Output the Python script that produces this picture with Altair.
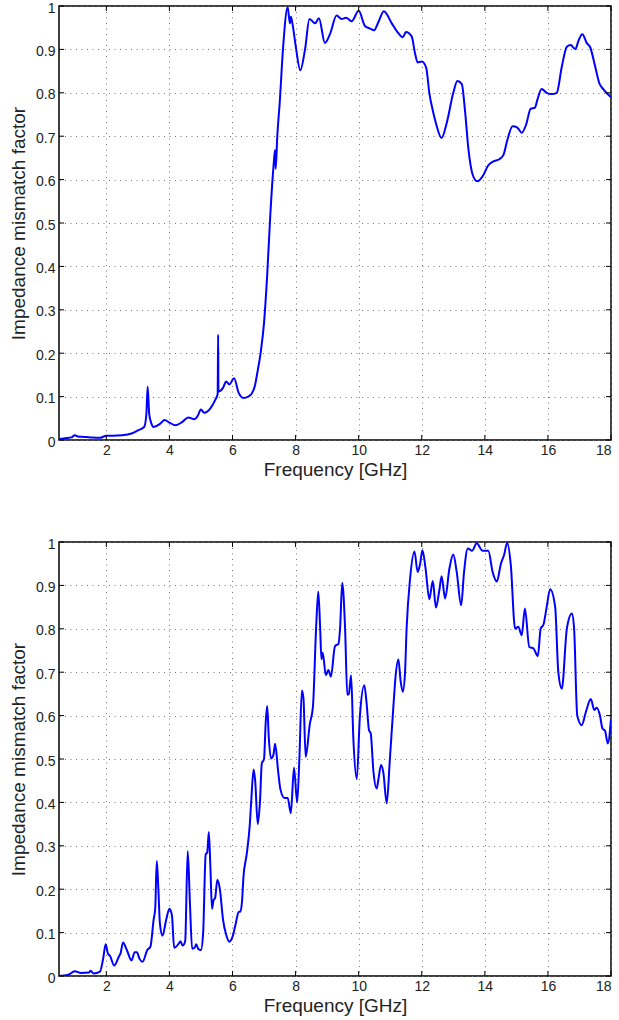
import altair as alt
import pandas as pd

# ---- data: top panel ----
freq_top = [0.5, 0.7, 0.9, 1.0, 1.1, 1.3, 1.5, 1.8, 2.0, 2.2, 2.5, 2.8, 3.0, 3.2, 3.27, 3.31, 3.36, 3.42, 3.5,
            3.7, 3.85, 4.0, 4.2, 4.4, 4.6, 4.8, 4.9, 5.0, 5.1, 5.3, 5.45, 5.53, 5.545, 5.555, 5.7, 5.8, 5.9,
            6.05, 6.2, 6.35, 6.5, 6.6, 6.7, 6.8, 6.9, 7.0, 7.1, 7.2, 7.3, 7.35, 7.37, 7.42, 7.5, 7.6, 7.75,
            7.82, 7.85, 7.9, 8.0, 8.15, 8.3, 8.44, 8.62, 8.74, 8.93, 9.09, 9.3, 9.46, 9.6, 9.78, 10.0, 10.2,
            10.36, 10.49, 10.62, 10.8, 11.05, 11.23, 11.4, 11.5, 11.68, 11.79, 11.87, 12.0, 12.14, 12.24,
            12.37, 12.45, 12.63, 12.79, 13.0, 13.13, 13.27, 13.37, 13.48, 13.62, 13.76, 13.95, 14.1, 14.27,
            14.46, 14.59, 14.71, 14.88, 15.03, 15.17, 15.31, 15.45, 15.59, 15.67, 15.8, 15.96, 16.12, 16.28,
            16.44, 16.6, 16.72, 16.87, 16.97, 17.09, 17.23, 17.34, 17.5, 17.63, 17.76, 18.0]
imf_top = [0.002, 0.004, 0.006, 0.011, 0.008, 0.007, 0.006, 0.005, 0.010, 0.010, 0.011, 0.015, 0.022, 0.03,
           0.06, 0.123, 0.06, 0.04, 0.03, 0.037, 0.046, 0.04, 0.034, 0.041, 0.052, 0.048, 0.056, 0.07, 0.063,
           0.073, 0.092, 0.106, 0.243, 0.112, 0.12, 0.135, 0.128, 0.142, 0.108, 0.097, 0.1, 0.106, 0.122,
           0.16, 0.205, 0.27, 0.38, 0.52, 0.63, 0.668, 0.625, 0.7, 0.78, 0.9, 0.997, 0.96, 0.975, 0.96, 0.91,
           0.852, 0.9, 0.97, 0.96, 0.972, 0.915, 0.935, 0.978, 0.97, 0.973, 0.965, 0.989, 0.954, 0.948, 0.944,
           0.962, 0.988, 0.96, 0.94, 0.928, 0.94, 0.93, 0.89, 0.87, 0.872, 0.858, 0.8, 0.753, 0.73, 0.696,
           0.73, 0.8, 0.827, 0.82, 0.76, 0.67, 0.61, 0.596, 0.61, 0.632, 0.642, 0.647, 0.657, 0.69, 0.723,
           0.72, 0.708, 0.727, 0.763, 0.766, 0.785, 0.809, 0.8, 0.797, 0.8, 0.86, 0.906, 0.91, 0.901, 0.92,
           0.935, 0.915, 0.905, 0.86, 0.822, 0.808, 0.79]

# ---- data: bottom panel ----
freq_bot = [0.5, 0.8, 1.0, 1.2, 1.45, 1.5, 1.6, 1.8, 1.9, 1.98, 2.05, 2.12, 2.25, 2.4, 2.45, 2.53, 2.65, 2.8,
            2.9, 2.97, 3.05, 3.15, 3.3, 3.4, 3.5, 3.55, 3.6, 3.65, 3.7, 3.78, 3.9, 4.0, 4.08, 4.15, 4.3, 4.35,
            4.42, 4.5, 4.58, 4.65, 4.72, 4.8, 4.85, 4.92, 5.0, 5.07, 5.15, 5.2, 5.25, 5.3, 5.35, 5.4, 5.45,
            5.52, 5.6, 5.7, 5.8, 5.9, 6.0, 6.1, 6.2, 6.25, 6.3, 6.35, 6.45, 6.55, 6.6, 6.67, 6.72, 6.8, 6.87,
            6.93, 7.0, 7.05, 7.1, 7.15, 7.22, 7.3, 7.35, 7.45, 7.52, 7.65, 7.75, 7.85, 7.95, 8.05, 8.12, 8.2,
            8.25, 8.32, 8.45, 8.55, 8.65, 8.72, 8.78, 8.82, 8.86, 8.96, 9.04, 9.12, 9.25, 9.36, 9.41, 9.48,
            9.57, 9.64, 9.69, 9.76, 9.83, 9.94, 10.04, 10.18, 10.25, 10.33, 10.38, 10.47, 10.57, 10.62, 10.71,
            10.78, 10.89, 10.99, 11.1, 11.17, 11.26, 11.33, 11.4, 11.47, 11.52, 11.63, 11.77, 11.87, 11.95,
            12.02, 12.12, 12.24, 12.35, 12.45, 12.56, 12.63, 12.74, 12.88, 13.0, 13.11, 13.25, 13.34, 13.46,
            13.6, 13.74, 13.93, 14.11, 14.25, 14.38, 14.51, 14.61, 14.71, 14.82, 14.96, 15.06, 15.17, 15.27,
            15.41, 15.54, 15.68, 15.77, 15.86, 15.96, 16.07, 16.23, 16.33, 16.44, 16.6, 16.76, 16.83, 16.93,
            17.07, 17.21, 17.36, 17.47, 17.55, 17.65, 17.73, 17.81, 17.9, 18.0]
imf_bot = [0.0, 0.003, 0.011, 0.007, 0.008, 0.012, 0.006, 0.01, 0.04, 0.073, 0.052, 0.046, 0.024, 0.045, 0.052,
           0.077, 0.06, 0.036, 0.055, 0.055, 0.04, 0.033, 0.06, 0.068, 0.13, 0.155, 0.265, 0.2, 0.12, 0.093,
           0.13, 0.155, 0.14, 0.065, 0.075, 0.08, 0.07, 0.08, 0.288, 0.17, 0.063, 0.065, 0.073, 0.062, 0.06,
           0.1, 0.28, 0.285, 0.332, 0.25, 0.155, 0.175, 0.18, 0.222, 0.2, 0.13, 0.095, 0.079, 0.09, 0.12,
           0.148, 0.148, 0.17, 0.23, 0.28, 0.35, 0.41, 0.476, 0.45, 0.35, 0.4, 0.49, 0.5, 0.58, 0.622, 0.55,
           0.501, 0.51, 0.535, 0.47, 0.43, 0.41, 0.41, 0.375, 0.48, 0.4, 0.5, 0.658, 0.64, 0.505, 0.58, 0.62,
           0.8, 0.886, 0.8, 0.73, 0.745, 0.693, 0.705, 0.69, 0.76, 0.765, 0.8, 0.906, 0.8, 0.648, 0.65, 0.693,
           0.55, 0.454, 0.6, 0.67, 0.63, 0.566, 0.56, 0.47, 0.432, 0.45, 0.486, 0.47, 0.398, 0.5, 0.62, 0.69,
           0.729, 0.68, 0.655, 0.7, 0.8, 0.915, 0.978, 0.931, 0.95, 0.981, 0.94, 0.868, 0.91, 0.849, 0.89,
           0.921, 0.87, 0.94, 0.971, 0.93, 0.854, 0.93, 0.985, 0.98, 0.997, 0.98, 0.98, 0.93, 0.909, 0.95,
           0.97, 0.998, 0.95, 0.8, 0.805, 0.785, 0.847, 0.758, 0.755, 0.737, 0.8, 0.81, 0.85, 0.891, 0.85,
           0.7, 0.662, 0.8, 0.835, 0.8, 0.6, 0.578, 0.61, 0.638, 0.613, 0.618, 0.6, 0.57, 0.565, 0.536, 0.593]

x_ticks = [2, 4, 6, 8, 10, 12, 14, 16, 18]
y_ticks = [0, 0.1, 0.2, 0.3, 0.4, 0.5, 0.6, 0.7, 0.8, 0.9, 1]

W, H = 552, 434
FONT = "Liberation Sans"


def panel(freq, vals):
    df = pd.DataFrame({"f": freq, "v": vals})
    xs = alt.Scale(domain=[0.5, 18], nice=False, zero=False)
    ys = alt.Scale(domain=[0, 1], nice=False)
    xaxis = alt.Axis(values=x_ticks, title="Frequency [GHz]", labelExpr="datum.value",
                     grid=True, tickSize=0, labelPadding=3, titlePadding=3, domain=False)
    yaxis = alt.Axis(values=y_ticks, title="Impedance mismatch factor",
                     labelExpr="datum.value == 0 || datum.value == 1 ? format(datum.value, 'd') : format(datum.value, '.1f')",
                     grid=True, tickSize=0, labelPadding=4, labelOffset=2, titlePadding=7.5, domain=False)
    line = alt.Chart(df).mark_line(color="#0000ff", strokeWidth=2, interpolate="monotone", clip=True).encode(
        x=alt.X("f:Q", scale=xs, axis=xaxis, title="Frequency [GHz]"),
        y=alt.Y("v:Q", scale=ys, axis=yaxis, title="Impedance mismatch factor"),
    )
    yt = alt.Chart(pd.DataFrame({"t": y_ticks})).encode(
        y=alt.Y("t:Q", scale=ys, axis=yaxis, title="Impedance mismatch factor"))
    ytl = yt.mark_rule(color="black", strokeWidth=1).encode(x=alt.value(0), x2=alt.value(5))
    ytr = yt.mark_rule(color="black", strokeWidth=1).encode(x=alt.value(W - 5), x2=alt.value(W))
    xt = alt.Chart(pd.DataFrame({"t": x_ticks})).encode(
        x=alt.X("t:Q", scale=xs, axis=xaxis, title="Frequency [GHz]"))
    xtb = xt.mark_rule(color="black", strokeWidth=1).encode(y=alt.value(H - 5), y2=alt.value(H))
    xtt = xt.mark_rule(color="black", strokeWidth=1).encode(y=alt.value(0), y2=alt.value(5))
    return alt.layer(line, ytl, ytr, xtb, xtt).properties(width=W, height=H)


chart = alt.vconcat(panel(freq_top, imf_top), panel(freq_bot, imf_bot), spacing=56).properties(
    padding={"left": 8, "top": 0, "right": 0, "bottom": 0}
).configure_view(stroke="black", strokeWidth=1.5).configure_axis(
    labelFont=FONT, titleFont=FONT, labelFontSize=14, titleFontSize=19,
    labelColor="#222", titleColor="#222", titleFontWeight="normal",
    gridColor="#777", gridDash=[1, 4.5], gridWidth=1, gridOpacity=1,
)

chart.save("out.html", embed_options={"renderer": "svg", "actions": False})
